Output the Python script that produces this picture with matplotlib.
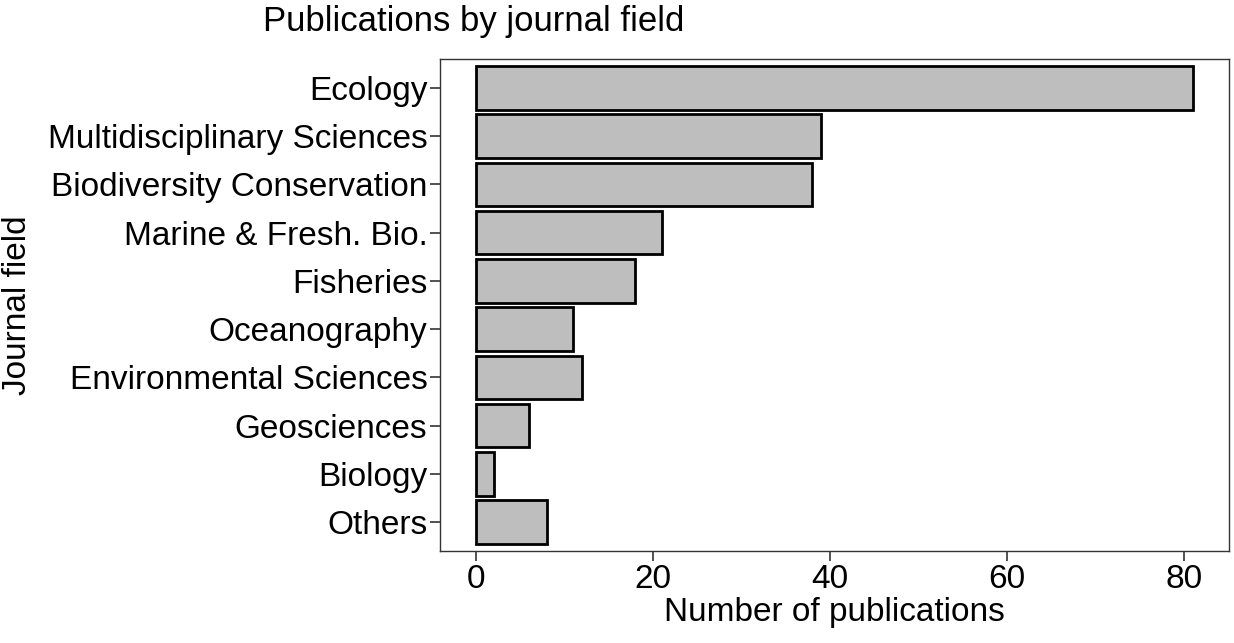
import matplotlib
matplotlib.use("Agg")
import matplotlib.pyplot as plt

fields = ["Ecology", "Multidisciplinary Sciences", "Biodiversity Conservation",
          "Marine & Fresh. Bio.", "Fisheries", "Oceanography",
          "Environmental Sciences", "Geosciences", "Biology", "Others"]
counts = [81, 39, 38, 21, 18, 11, 12, 6, 2, 8]

plt.rcParams['font.family'] = ['Liberation Sans', 'DejaVu Sans']

fig = plt.figure(figsize=(12.34, 6.43), dpi=100)
ax = fig.add_axes([440 / 1234, 1 - 551 / 643, 789 / 1234, 492 / 643])

# top category first, like ggplot's discrete axis reversed
ypos = list(range(len(fields)))[::-1]
ax.barh(ypos, counts, height=0.9, color="#BEBEBE", edgecolor="black", linewidth=2)

ax.set_yticks(ypos)
ax.set_yticklabels(fields)
ax.set_xticks([0, 20, 40, 60, 80])
ax.set_xlim(-4.05, 85.05)
ax.set_ylim(-0.6, len(fields) - 0.4)

for s in ax.spines.values():
    s.set_color("#333333")
    s.set_linewidth(1.0)
ax.tick_params(axis="both", labelsize=24, length=7, width=1.2, color="#333333",
               labelcolor="black", pad=2)

ax.set_xlabel("Number of publications", fontsize=24, labelpad=2)
fig.text(18 / 1234, 1 - 305 / 643, "Journal field", rotation=90, fontsize=24,
         ha="center", va="center")
fig.text(263 / 1234, 1 - 22 / 643, "Publications by journal field", fontsize=25,
         ha="left", va="center")

fig.savefig("out.png", dpi=100)
